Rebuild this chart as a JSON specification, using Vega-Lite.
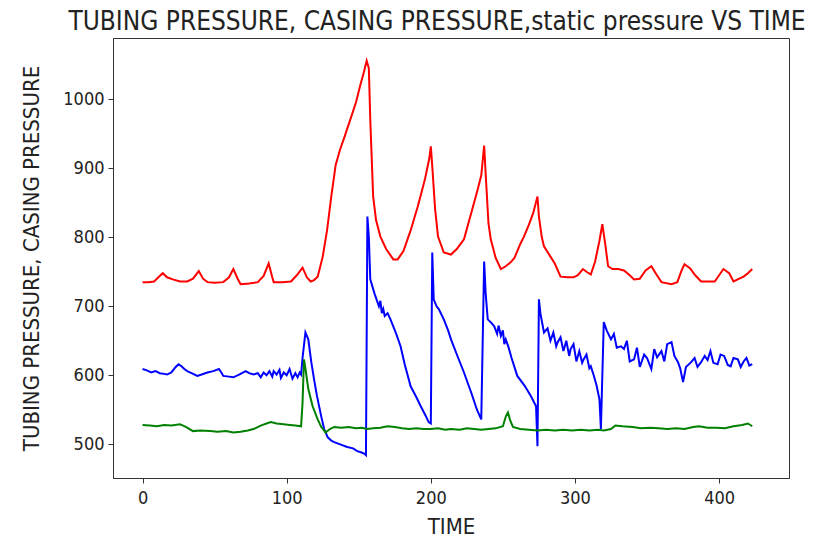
{
  "$schema": "https://vega.github.io/schema/vega-lite/v6.json",
  "width": 676,
  "height": 440,
  "autosize": {"type": "none"},
  "padding": {"left": 113, "top": 38, "right": 40, "bottom": 65},
  "background": "white",
  "title": {"text": "TUBING PRESSURE, CASING PRESSURE,static pressure VS TIME", "fontSize": 26, "font": "DejaVu Sans Condensed, DejaVu Sans", "fontWeight": "normal", "color": "#222222", "offset": 3, "anchor": "middle", "dx": -14},
  "config": {
    "view": {"stroke": "#333333", "strokeWidth": 1},
    "axis": {"grid": false, "domainColor": "#333333", "tickColor": "#333333", "tickSize": 5, "labelFontSize": 18, "labelPadding": 4, "labelFont": "DejaVu Sans Condensed, DejaVu Sans", "labelColor": "#222222", "titleFontSize": 22, "titleFont": "DejaVu Sans Condensed, DejaVu Sans", "titleFontWeight": "normal", "titleColor": "#222222"}
  },
  "datasets": {
    "casing": [
      {"t":0,"v":735},{"t":4,"v":735},{"t":8,"v":736},{"t":11,"v":742},{"t":14,"v":748},{"t":17,"v":742},{"t":21,"v":739},{"t":26,"v":736},{"t":31,"v":736},{"t":35,"v":740},{"t":39,"v":751},{"t":42,"v":740},{"t":45,"v":735},{"t":50,"v":734},{"t":56,"v":735},{"t":60,"v":742},{"t":63,"v":754},{"t":66,"v":740},{"t":68,"v":732},{"t":74,"v":733},{"t":80,"v":735},{"t":84,"v":744},{"t":87.5,"v":762},{"t":90,"v":742},{"t":91,"v":735},{"t":97,"v":735},{"t":103,"v":736},{"t":107,"v":745},{"t":111,"v":756},{"t":114,"v":742},{"t":116.6,"v":736},{"t":119,"v":738},{"t":121.5,"v":743},{"t":123,"v":755},{"t":125,"v":772},{"t":128,"v":810},{"t":131,"v":860},{"t":134,"v":905},{"t":137,"v":927},{"t":140,"v":945},{"t":144,"v":970},{"t":148,"v":995},{"t":151,"v":1020},{"t":153.5,"v":1039},{"t":155.5,"v":1056},{"t":157,"v":1045},{"t":158,"v":970},{"t":160,"v":859},{"t":162,"v":825},{"t":165,"v":801},{"t":169,"v":783},{"t":174,"v":768},{"t":177,"v":768},{"t":181,"v":780},{"t":186,"v":810},{"t":191,"v":845},{"t":196,"v":885},{"t":199,"v":915},{"t":200,"v":932},{"t":201,"v":903},{"t":203,"v":840},{"t":205,"v":801},{"t":209,"v":778},{"t":214,"v":775},{"t":218,"v":783},{"t":223,"v":797},{"t":228,"v":835},{"t":232.6,"v":870},{"t":235,"v":890},{"t":237,"v":933},{"t":238,"v":894},{"t":240,"v":820},{"t":241.6,"v":797},{"t":245,"v":770},{"t":248.6,"v":754},{"t":252,"v":758},{"t":255.5,"v":764},{"t":258,"v":770},{"t":262,"v":790},{"t":264.6,"v":801},{"t":268,"v":818},{"t":271,"v":835},{"t":274,"v":859},{"t":275,"v":830},{"t":277,"v":800},{"t":278.5,"v":787},{"t":283,"v":772},{"t":286,"v":762},{"t":290,"v":743},{"t":295,"v":742},{"t":299,"v":742},{"t":302,"v":745},{"t":305.5,"v":754},{"t":308,"v":750},{"t":311,"v":746},{"t":314,"v":765},{"t":317,"v":795},{"t":319,"v":819},{"t":321,"v":790},{"t":323,"v":758},{"t":326,"v":754},{"t":330,"v":754},{"t":334,"v":752},{"t":338,"v":745},{"t":341,"v":739},{"t":345,"v":740},{"t":349,"v":752},{"t":353,"v":758},{"t":356,"v":748},{"t":360,"v":735},{"t":367,"v":732},{"t":371,"v":735},{"t":374,"v":752},{"t":376,"v":761},{"t":380,"v":755},{"t":383,"v":746},{"t":387.5,"v":736},{"t":392,"v":736},{"t":397,"v":736},{"t":400,"v":745},{"t":403,"v":754},{"t":407,"v":748},{"t":410,"v":736},{"t":414,"v":740},{"t":417,"v":743},{"t":420,"v":748},{"t":423,"v":754}
    ],
    "tubing": [
      {"t":0,"v":609},{"t":3,"v":607},{"t":6,"v":604},{"t":9,"v":606},{"t":12,"v":603},{"t":15,"v":602},{"t":17,"v":601},{"t":20,"v":604},{"t":23,"v":612},{"t":25,"v":616},{"t":27,"v":613},{"t":29,"v":609},{"t":31,"v":606},{"t":34,"v":603},{"t":38,"v":599},{"t":41,"v":601},{"t":45,"v":604},{"t":49,"v":606},{"t":53,"v":609},{"t":55,"v":603},{"t":56,"v":599},{"t":60,"v":598},{"t":63,"v":597},{"t":67,"v":601},{"t":71.5,"v":606},{"t":74,"v":603},{"t":77,"v":601},{"t":80,"v":603},{"t":82,"v":597},{"t":84,"v":604},{"t":86,"v":600},{"t":88,"v":606},{"t":90,"v":598},{"t":91,"v":606},{"t":93,"v":601},{"t":95,"v":608},{"t":96,"v":596},{"t":98,"v":604},{"t":100,"v":600},{"t":102,"v":609},{"t":104,"v":595},{"t":106,"v":603},{"t":107.6,"v":597},{"t":109,"v":604},{"t":110,"v":601},{"t":111,"v":625},{"t":113,"v":662},{"t":115,"v":652},{"t":117,"v":620},{"t":119,"v":594},{"t":121,"v":570},{"t":124,"v":540},{"t":126,"v":522},{"t":128.5,"v":510},{"t":131,"v":505},{"t":133,"v":503},{"t":138,"v":499},{"t":142,"v":496},{"t":146,"v":494},{"t":149,"v":490},{"t":152,"v":488},{"t":154,"v":486},{"t":155,"v":484},{"t":156,"v":830},{"t":157,"v":800},{"t":158,"v":739},{"t":161,"v":718},{"t":164,"v":700},{"t":165,"v":708},{"t":166,"v":690},{"t":167,"v":696},{"t":168,"v":686},{"t":170,"v":690},{"t":172,"v":681},{"t":176,"v":660},{"t":179,"v":642},{"t":182,"v":615},{"t":186,"v":584},{"t":190,"v":568},{"t":193,"v":555},{"t":196.5,"v":541},{"t":198.5,"v":532},{"t":200,"v":530},{"t":201,"v":778},{"t":202,"v":710},{"t":204,"v":700},{"t":205.5,"v":696},{"t":209,"v":681},{"t":212,"v":665},{"t":214,"v":652},{"t":219,"v":625},{"t":223,"v":604},{"t":228,"v":575},{"t":232,"v":550},{"t":235,"v":536},{"t":237,"v":765},{"t":238,"v":720},{"t":239.5,"v":681},{"t":242,"v":676},{"t":244,"v":671},{"t":246,"v":660},{"t":247,"v":672},{"t":248.6,"v":657},{"t":250,"v":665},{"t":251,"v":645},{"t":252,"v":652},{"t":254,"v":640},{"t":256,"v":625},{"t":260,"v":599},{"t":265,"v":585},{"t":269.4,"v":570},{"t":273,"v":555},{"t":274,"v":497},{"t":275,"v":710},{"t":276,"v":690},{"t":278.5,"v":662},{"t":281,"v":668},{"t":283,"v":650},{"t":285,"v":662},{"t":287,"v":642},{"t":288,"v":648},{"t":290,"v":655},{"t":292,"v":635},{"t":294,"v":650},{"t":296,"v":628},{"t":297,"v":638},{"t":299,"v":645},{"t":301,"v":620},{"t":303,"v":635},{"t":305,"v":618},{"t":306,"v":623},{"t":308,"v":630},{"t":310,"v":610},{"t":311,"v":613},{"t":313,"v":600},{"t":315,"v":585},{"t":317,"v":565},{"t":318,"v":522},{"t":319,"v":600},{"t":320,"v":677},{"t":322,"v":665},{"t":325,"v":652},{"t":327,"v":660},{"t":329,"v":640},{"t":332,"v":642},{"t":334,"v":638},{"t":336,"v":650},{"t":338,"v":620},{"t":341,"v":623},{"t":343,"v":640},{"t":345,"v":612},{"t":348,"v":630},{"t":350,"v":625},{"t":353,"v":609},{"t":355,"v":638},{"t":357,"v":626},{"t":360,"v":635},{"t":362,"v":620},{"t":364,"v":645},{"t":367,"v":648},{"t":369,"v":628},{"t":371.5,"v":619},{"t":373,"v":610},{"t":375,"v":590},{"t":377,"v":612},{"t":380.6,"v":619},{"t":383,"v":625},{"t":385,"v":612},{"t":387.5,"v":619},{"t":390,"v":628},{"t":392,"v":622},{"t":394,"v":635},{"t":396,"v":618},{"t":399,"v":616},{"t":401,"v":630},{"t":403.5,"v":628},{"t":406,"v":615},{"t":408,"v":613},{"t":410,"v":625},{"t":413,"v":623},{"t":415,"v":612},{"t":417,"v":620},{"t":419,"v":625},{"t":421,"v":614},{"t":423,"v":616}
    ],
    "static": [
      {"t":0,"v":528},{"t":5,"v":527},{"t":10,"v":526},{"t":15,"v":528},{"t":20,"v":527},{"t":26,"v":529},{"t":30,"v":525},{"t":35,"v":519},{"t":40,"v":520},{"t":47,"v":519},{"t":52,"v":518},{"t":58,"v":519},{"t":63,"v":517},{"t":68,"v":518},{"t":73,"v":520},{"t":77,"v":522},{"t":82,"v":527},{"t":86,"v":530},{"t":89,"v":532},{"t":93,"v":530},{"t":98,"v":529},{"t":102,"v":528},{"t":106,"v":527},{"t":110,"v":526},{"t":111,"v":560},{"t":112,"v":623},{"t":113,"v":610},{"t":115,"v":580},{"t":118,"v":555},{"t":121.5,"v":536},{"t":124,"v":525},{"t":127,"v":517},{"t":130,"v":522},{"t":133,"v":525},{"t":138,"v":524},{"t":143,"v":525},{"t":148,"v":523},{"t":152,"v":524},{"t":156,"v":522},{"t":160,"v":523},{"t":165,"v":524},{"t":170,"v":526},{"t":175,"v":525},{"t":180,"v":523},{"t":185,"v":522},{"t":190,"v":523},{"t":195,"v":522},{"t":200,"v":522},{"t":205,"v":523},{"t":210,"v":521},{"t":214,"v":522},{"t":220,"v":521},{"t":225,"v":523},{"t":230,"v":522},{"t":235,"v":521},{"t":240,"v":522},{"t":245,"v":523},{"t":250,"v":526},{"t":252,"v":540},{"t":253.5,"v":546},{"t":255,"v":535},{"t":257,"v":525},{"t":262,"v":522},{"t":268,"v":521},{"t":274,"v":520},{"t":280,"v":521},{"t":286,"v":520},{"t":292,"v":521},{"t":298,"v":520},{"t":304,"v":521},{"t":310,"v":520},{"t":316,"v":521},{"t":320,"v":520},{"t":325,"v":522},{"t":328,"v":527},{"t":333,"v":526},{"t":340,"v":525},{"t":346,"v":523},{"t":352,"v":524},{"t":358,"v":523},{"t":364,"v":522},{"t":370,"v":523},{"t":376,"v":522},{"t":382,"v":525},{"t":386,"v":526},{"t":392,"v":524},{"t":398,"v":524},{"t":404,"v":523},{"t":410,"v":526},{"t":416,"v":528},{"t":420,"v":530},{"t":423,"v":526}
    ]
  },
  "encoding": {
    "x": {"field": "t", "type": "quantitative", "scale": {"domain": [-20.5, 448.5], "nice": false, "zero": false}, "axis": {"title": "TIME", "values": [0, 100, 200, 300, 400], "labelPadding": 6, "titlePadding": 9}},
    "y": {"field": "v", "type": "quantitative", "scale": {"domain": [451, 1089], "nice": false, "zero": false}, "axis": {"title": "TUBING PRESSURE, CASING PRESSURE", "values": [500, 600, 700, 800, 900, 1000], "format": "d", "titlePadding": 19}}
  },
  "layer": [
    {"data": {"name": "casing"}, "mark": {"type": "line", "color": "#ff0000", "strokeWidth": 2}},
    {"data": {"name": "tubing"}, "mark": {"type": "line", "color": "#0000ff", "strokeWidth": 2}},
    {"data": {"name": "static"}, "mark": {"type": "line", "color": "#008000", "strokeWidth": 2}}
  ]
}
